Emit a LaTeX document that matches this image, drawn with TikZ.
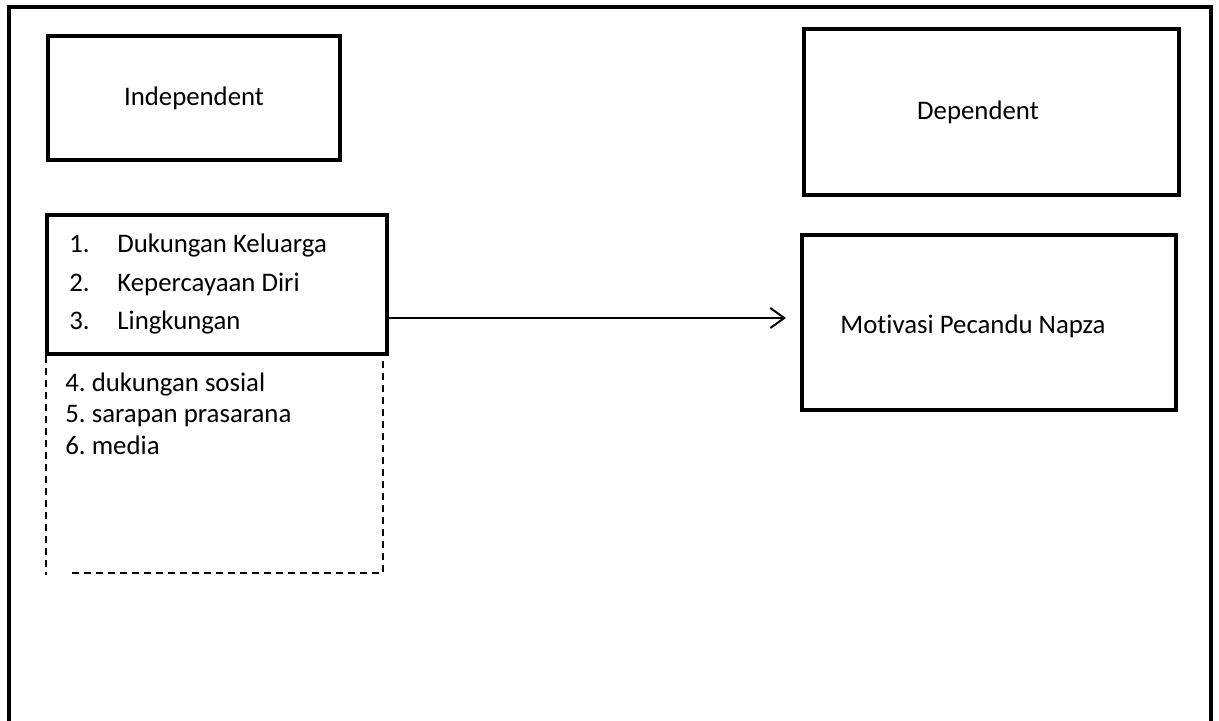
\documentclass[tikz,border=0pt]{standalone}
\usepackage{fontspec}
\setmainfont{Carlito}[Ligatures=NoCommon]
\usetikzlibrary{arrows.meta}
\frenchspacing

\begin{document}
\begin{tikzpicture}[x=0.5pt,y=-0.5pt,
  font=\fontsize{13.4}{15}\selectfont,
  box/.style={draw,line width=2pt,inner sep=0pt},
  item/.style={anchor=base west,inner sep=0pt},
  arr/.style={-{Straight Barb[length=7pt,width=10pt,line width=1pt]},line width=1pt},
  dash box/.style={line width=0.75pt,dash pattern=on 3.5pt off 2.5pt}]
\useasboundingbox (0,0) rectangle (1219,720);

% frame
\draw[line width=2pt] (9,725) -- (9,7) -- (1211,7) -- (1211,725);

\node[box,minimum width=146pt,minimum height=62pt] (indep) at (194,98) {Independent};
\node[box,minimum width=187.5pt,minimum height=83pt] (dep) at (991.5,112) {};
\node (deptext) at (978,112) {Dependent};

%\fill[color=lightgray] (47,332) rectangle (383,573);
\draw[dash box] (72,573) -- (383,573) -- (383,332);
\draw[dash box] (46,332) -- (46,575);

\node[box,fill=white,minimum width=170pt,minimum height=69.5pt] (list) at (217,284.5) {};

\node[item] (n1) at (69,252) {1.};
\node[item] (n2) at (69,291) {2.};
\node[item] (n3) at (69,329) {3.};
\node[item] (item1) at (117,252) {Dukungan Keluarga};
\node[item] (item2) at (117,291) {Kepercayaan Diri};
\node[item] (item3) at (117,329) {Lingkungan};

\node[item] (item4) at (65,391) {4. dukungan sosial};
\node[item] (item5) at (65,422) {5. sarapan prasarana};
\node[item] (item6) at (65,454) {6. media};

\node[box,minimum width=187pt,minimum height=87.5pt] (motiv) at (989,322.5) {};
\node (motivtext) at (973,326) {Motivasi Pecandu Napza};

\coordinate (tip) at (786,318);
\draw[arr] (list.east |- tip) -- (tip);
\end{tikzpicture}
\end{document}
